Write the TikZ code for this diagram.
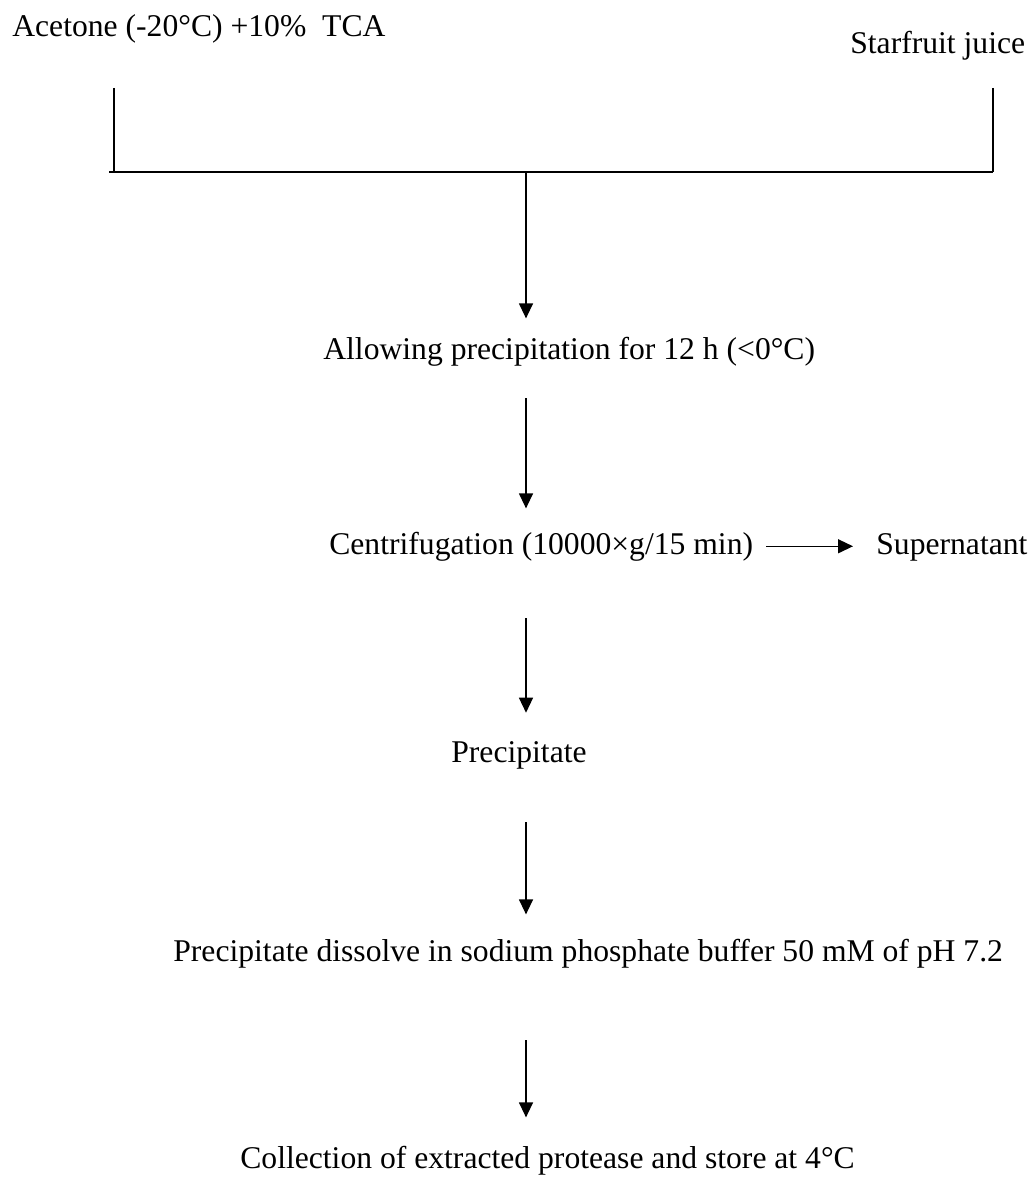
\documentclass[tikz,border=0pt]{standalone}
\usepackage{fontspec}
\setmainfont{Liberation Serif}
\usepackage{tikz}
\usetikzlibrary{arrows.meta,positioning}

\begin{document}
\begin{tikzpicture}[every node/.style={font=\fontsize{18}{22}\selectfont, inner sep=0pt, anchor=base west},
    flow/.style={-{Triangle[length=0.3cm,width=0.28cm]}, line width=0.75pt},
    rule/.style={line width=0.75pt}]
    \useasboundingbox (0,0) rectangle (20.64,-23.56);
    % inputs
    \node (acet)  at (0.24, -0.74)  {Acetone (-20°C) +10\%\ \ TCA};
    \node (star)  at (17.00, -1.08) {Starfruit juice};
    % steps
    \node (allow) at (6.46, -7.18)  {Allowing precipitation for 12 h (<0°C)};
    \node (cent)  at (6.58, -11.08) {Centrifugation (10000×g/15 min)};
    \node (super) at (17.52, -11.08) {Supernatant};
    \node (prec)  at (9.02, -15.24) {Precipitate};
    \node (diss)  at (3.46, -19.22) {Precipitate dissolve in sodium phosphate buffer 50 mM of pH 7.2};
    \node (coll)  at (4.80, -23.36) {Collection of extracted protease and store at 4°C};
    % bracket joining the two inputs
    \coordinate (lt) at (2.28, -1.76);
    \coordinate (lb) at (2.28, -3.44);
    \coordinate (rt) at (19.86, -1.76);
    \coordinate (rb) at (19.86, -3.44);
    \coordinate (hl) at (2.18, -3.44);
    \coordinate (jn) at (10.52, -3.44);
    \draw[rule] (lt) -- (lb);
    \draw[rule] (rt) -- (rb);
    \draw[rule] (hl) -- (rb);
    \draw[flow, shorten >=0.36cm]                  (jn) -- (jn |- allow.north);
    \draw[flow, shorten <=0.64cm, shorten >=0.46cm] (allow.south -| jn) -- (cent.north -| jn);
    \draw[flow, shorten <=0.26cm, shorten >=0.46cm] (cent.east) -- (cent.east -| super.west);
    \draw[flow, shorten <=1.14cm, shorten >=0.56cm] (cent.south -| jn) -- (prec.north -| jn);
    \draw[flow, shorten <=1.06cm, shorten >=0.48cm] (prec.south -| jn) -- (diss.north -| jn);
    \draw[flow, shorten <=1.44cm, shorten >=0.56cm] (diss.south -| jn) -- (coll.north -| jn);
  \end{tikzpicture}
\end{document}
